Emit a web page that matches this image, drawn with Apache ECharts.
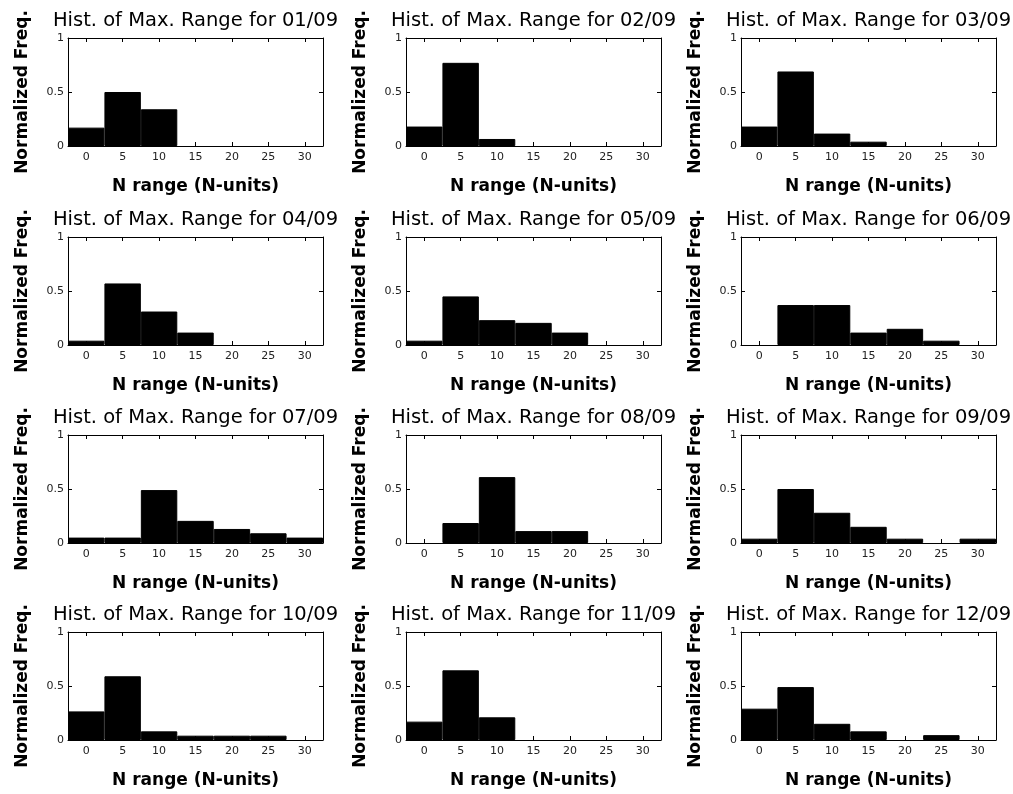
<!DOCTYPE html>
<html>
<head>
<meta charset="utf-8">
<script src="https://cdn.jsdelivr.net/npm/echarts@6/dist/echarts.min.js"></script>
<style>
html,body{margin:0;padding:0;background:#fff;}
#chart{width:1013px;height:794px;}
</style>
</head>
<body>
<div id="chart"></div>
<script>
// Bin centres (N-units) and month labels
const binLabels = ['0', '5', '10', '15', '20', '25', '30'];
const monthLabels = ['01/09', '02/09', '03/09', '04/09', '05/09', '06/09',
                     '07/09', '08/09', '09/09', '10/09', '11/09', '12/09'];

// Normalized frequencies per month, one value per bin
const freq01 = [0.17, 0.50, 0.34, 0, 0, 0, 0];
const freq02 = [0.18, 0.77, 0.065, 0, 0, 0, 0];
const freq03 = [0.18, 0.69, 0.115, 0.04, 0, 0, 0];
const freq04 = [0.04, 0.57, 0.31, 0.115, 0, 0, 0];
const freq05 = [0.04, 0.45, 0.23, 0.205, 0.115, 0, 0];
const freq06 = [0, 0.37, 0.37, 0.115, 0.15, 0.04, 0];
const freq07 = [0.05, 0.05, 0.49, 0.205, 0.13, 0.09, 0.05];
const freq08 = [0, 0.185, 0.61, 0.11, 0.11, 0, 0];
const freq09 = [0.04, 0.50, 0.28, 0.15, 0.04, 0, 0.04];
const freq10 = [0.265, 0.59, 0.08, 0.04, 0.04, 0.04, 0];
const freq11 = [0.17, 0.645, 0.21, 0, 0, 0, 0];
const freq12 = [0.29, 0.49, 0.15, 0.08, 0, 0.045, 0];
const allFreq = [freq01, freq02, freq03, freq04, freq05, freq06,
                 freq07, freq08, freq09, freq10, freq11, freq12];

// Y axis ticks
const yMin = 0, yMax = 1, yInterval = 0.5;

const titleText = 'Hist. of Max. Range for ';
const xName = 'N range (N-units)';
const yName = 'Normalized Freq.';

// Layout
const colLeft = [68, 406, 741];
const rowTop = [38, 237, 435, 632];
const gw = 255, gh = 108;

const grids = [], xAxes = [], yAxes = [], series = [], titles = [];
allFreq.forEach((data, i) => {
  const r = Math.floor(i / 3), c = i % 3;
  grids.push({left: colLeft[c], top: rowTop[r], width: gw, height: gh, show: false});
  titles.push({
    text: titleText + monthLabels[i],
    left: colLeft[c] + gw / 2, top: rowTop[r] - 27, textAlign: 'center', padding: 0,
    textStyle: {fontFamily: 'DejaVu Sans', fontSize: 19.5, fontWeight: 'normal', color: '#000'}
  });
  const lineStyle = {color: '#000', width: 1};
  xAxes.push({
    type: 'category', gridIndex: i, data: binLabels, position: 'bottom', boundaryGap: true,
    axisLine: {show: true, onZero: false, lineStyle},
    axisTick: {show: true, inside: true, alignWithLabel: true, length: 4, lineStyle},
    axisLabel: {show: true, margin: 6, fontFamily: 'DejaVu Sans', fontSize: 11, color: '#222'},
    splitLine: {show: false},
    name: xName, nameLocation: 'middle', nameGap: 32,
    nameTextStyle: {fontFamily: 'DejaVu Sans', fontSize: 17, fontWeight: 'bold', color: '#000'}
  });
  xAxes.push({
    type: 'category', gridIndex: i, data: binLabels, position: 'top', boundaryGap: true,
    axisLine: {show: true, onZero: false, lineStyle},
    axisTick: {show: true, inside: true, alignWithLabel: true, length: 4, lineStyle},
    axisLabel: {show: false}, splitLine: {show: false}
  });
  yAxes.push({
    type: 'value', gridIndex: i, min: yMin, max: yMax, interval: yInterval, position: 'left',
    axisLine: {show: true, onZero: false, lineStyle},
    axisTick: {show: true, inside: true, length: 4, lineStyle},
    axisLabel: {show: true, margin: 4, fontFamily: 'DejaVu Sans', fontSize: 11, color: '#222'},
    splitLine: {show: false},
    name: yName, nameLocation: 'middle', nameGap: 37, nameRotate: 90,
    nameTextStyle: {fontFamily: 'DejaVu Sans', fontSize: 17, fontWeight: 'bold', color: '#000'}
  });
  yAxes.push({
    type: 'value', gridIndex: i, min: yMin, max: yMax, interval: yInterval, position: 'right',
    axisLine: {show: true, onZero: false, lineStyle},
    axisTick: {show: true, inside: true, length: 4, lineStyle},
    axisLabel: {show: false}, splitLine: {show: false}
  });
  series.push({
    type: 'bar', xAxisIndex: 2 * i, yAxisIndex: 2 * i,
    data: data.map(v => (v === 0 ? '-' : v)),
    barWidth: '100%', barCategoryGap: '0%', silent: true,
    itemStyle: {color: '#000', borderColor: '#000', borderWidth: 1}
  });
});

const chart = echarts.init(document.getElementById('chart'), null, {renderer: 'canvas'});
chart.setOption({
  animation: false,
  backgroundColor: '#fff',
  title: titles,
  grid: grids,
  xAxis: xAxes,
  yAxis: yAxes,
  series: series
});
</script>
</body>
</html>
